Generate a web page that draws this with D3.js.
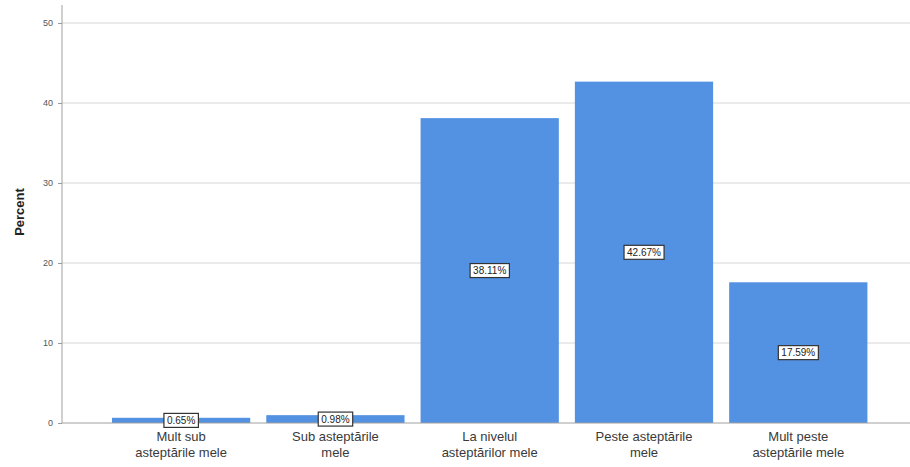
<!DOCTYPE html>
<html>
<head>
<meta charset="utf-8">
<script src="https://cdn.jsdelivr.net/npm/d3@7"></script>
<style>
  body { margin: 0; background: #fff; }
  svg { display: block; font-family: Arial, "Liberation Sans", sans-serif; }
</style>
</head>
<body>
<svg id="chart" width="910" height="467"></svg>
<script>
// categories (two lines each), percent values, y ticks
var categories = [
  ['Mult sub', 'asteptările mele'],
  ['Sub asteptările', 'mele'],
  ['La nivelul', 'asteptărilor mele'],
  ['Peste asteptările', 'mele'],
  ['Mult peste', 'asteptările mele']
];
var percents = [0.65, 0.98, 38.11, 42.67, 17.59];
var yTicks = [0, 10, 20, 30, 40, 50];

var svg = d3.select('#chart');
// plot area edges (window.top is reserved, so no "top" here)
var plotL = 62, plotR = 910, plotT = 5, plotB = 423;

var x = d3.scaleBand()
  .domain(d3.range(categories.length))
  .range([plotL, plotR])
  .paddingInner(0.104)
  .paddingOuter(0.3)
  .align(0.54);

var y = d3.scaleLinear()
  .domain([0, 52.25])
  .range([plotB, plotT]);

// gridlines
svg.append('g')
  .selectAll('line')
  .data(yTicks.filter(d => d > 0))
  .join('line')
  .attr('x1', plotL).attr('x2', plotR)
  .attr('y1', d => y(d)).attr('y2', d => y(d))
  .attr('stroke', '#d6d6d6')
  .attr('stroke-width', 1);

// bars
svg.append('g')
  .selectAll('rect')
  .data(percents)
  .join('rect')
  .attr('x', (d, i) => x(i))
  .attr('width', x.bandwidth())
  .attr('y', d => y(d))
  .attr('height', d => plotB - y(d))
  .attr('fill', '#5391e2');

// y axis
var yAxis = svg.append('g')
  .attr('transform', 'translate(' + plotL + ',0)')
  .call(d3.axisLeft(y).tickValues(yTicks).tickSize(4).tickPadding(5));
yAxis.select('.domain').remove();
yAxis.selectAll('.tick line').attr('stroke', '#9a9a9a');
yAxis.selectAll('.tick text')
  .attr('fill', '#555')
  .style('font-size', '9px');

svg.append('line')
  .attr('x1', plotL).attr('x2', plotL)
  .attr('y1', plotT).attr('y2', plotB)
  .attr('stroke', '#a0a0a0');
svg.append('line')
  .attr('x1', plotL).attr('x2', plotR)
  .attr('y1', plotB).attr('y2', plotB)
  .attr('stroke', '#a0a0a0');

// y title
svg.append('text')
  .attr('transform', 'translate(24,' + ((plotT + plotB) / 2 - 2) + ') rotate(-90)')
  .attr('text-anchor', 'middle')
  .style('font-size', '13px')
  .style('font-weight', 'bold')
  .attr('fill', '#222')
  .text('Percent');

// category labels
var cat = svg.append('g')
  .selectAll('text')
  .data(categories)
  .join('text')
  .attr('text-anchor', 'middle')
  .attr('fill', '#3a3a3a')
  .style('font-size', '13px');
cat.selectAll('tspan')
  .data((d, i) => d.map(t => ({ t: t, i: i })))
  .join('tspan')
  .attr('x', d => x(d.i) + x.bandwidth() / 2)
  .attr('y', (d, j) => 441 + j * 16)
  .text(d => d.t);

// value labels in boxes
var lab = svg.append('g')
  .selectAll('g')
  .data(percents)
  .join('g')
  .attr('transform', (d, i) => 'translate(' + (x(i) + x.bandwidth() / 2) + ',' + y(d / 2) + ')');
lab.append('text')
  .attr('text-anchor', 'middle')
  .attr('dy', '0.35em')
  .attr('fill', '#222')
  .style('font-size', '10px')
  .text(d => d.toFixed(2) + '%');
lab.each(function () {
  var g = d3.select(this);
  var b = g.select('text').node().getBBox();
  g.insert('rect', 'text')
    .attr('x', b.x - 3).attr('y', b.y - 1.5)
    .attr('width', b.width + 6).attr('height', b.height + 3)
    .attr('fill', '#fff')
    .attr('stroke', '#333')
    .attr('stroke-width', 1.2);
});
</script>
</body>
</html>
